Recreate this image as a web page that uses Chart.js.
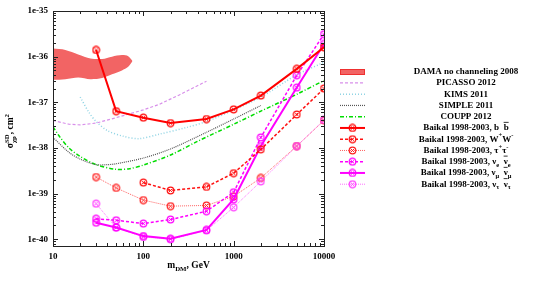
<!DOCTYPE html>
<html>
<head>
<meta charset="utf-8">
<script src="https://cdn.jsdelivr.net/npm/chart.js@4.4.0/dist/chart.umd.min.js"></script>
<style>
    html, body { margin: 0; padding: 0; background: #fff; }
    #wrap { width: 538px; height: 283px; }
</style>
</head>
<body>
<div id="wrap"><canvas id="limitsChart"></canvas></div>
<script>
// Tick values
const xTicks = [10, 100, 1000, 10000];
const yTicks = [1e-40, 1e-39, 1e-38, 1e-37, 1e-36, 1e-35];

// DAMA allowed region (upper / lower boundary)
const damaMass = [10, 13.7, 19, 26, 35, 45, 58, 68, 76];
const damaUpper = [1.5e-36, 1.4e-36, 1.12e-36, 9.1e-37, 8.9e-37, 1e-36, 1.08e-36, 1.02e-36, 8e-37];
const damaLower = [3.1e-37, 3.2e-37, 3.5e-37, 3.2e-37, 3.4e-37, 4.1e-37, 5e-37, 6e-37, 8e-37];

// Other experiments
const picassoMass = [10, 15, 20, 30, 50, 100, 150, 250, 500];
const picassoSigma = [4e-38, 3.3e-38, 3.2e-38, 3.5e-38, 4.6e-38, 6.8e-38, 9e-38, 1.45e-37, 2.9e-37];
const kimsMass = [20, 25, 30, 40, 60, 90, 150, 300, 500, 1000, 2000, 5000, 10000];
const kimsSigma = [1.3e-37, 6e-38, 3.8e-38, 2.4e-38, 1.8e-38, 1.6e-38, 2e-38, 2.8e-38, 3.8e-38, 6.8e-38, 1.3e-37, 4e-37, 7.5e-37];
const simpleMass = [10, 15, 20, 30, 40, 50, 100, 200, 500, 1000, 2000];
const simpleSigma = [1.7e-38, 8e-39, 5.7e-39, 4.3e-39, 4.3e-39, 4.5e-39, 6e-39, 9.5e-39, 2.2e-38, 4.3e-38, 8.5e-38];
const couppMass = [10, 12, 15, 20, 30, 50, 70, 100, 200, 400, 1000, 2000, 5000, 10000];
const couppSigma = [2.9e-38, 1.7e-38, 1e-38, 6.5e-39, 4.3e-39, 3.4e-39, 3.5e-39, 4.2e-39, 7e-39, 1.4e-38, 3.3e-38, 6.4e-38, 1.5e-37, 3e-37];

// Baikal 1998-2003 limits
const baikalMass = [30, 50, 100, 200, 500, 1000, 2000, 5000, 10000];
const sigmaBB = [1.4e-36, 6.4e-38, 4.6e-38, 3.5e-38, 4.3e-38, 7e-38, 1.4e-37, 5.4e-37, 1.6e-36];
const massWW = [100, 200, 500, 1000, 2000, 5000, 10000];
const sigmaWW = [1.74e-39, 1.17e-39, 1.4e-39, 2.8e-39, 9.3e-39, 5.4e-38, 2e-37];
const sigmaTauTau = [2.3e-39, 1.33e-39, 7.2e-40, 5.3e-40, 5.5e-40, 8.7e-40, 2.2e-39, 1.1e-38, 4e-38];
const sigmaNuE = [2.8e-40, 2.6e-40, 2.2e-40, 2.7e-40, 4.1e-40, 1.07e-39, 1.7e-38, 3.9e-37, 3.1e-36];
const sigmaNuMu = [2.3e-40, 1.8e-40, 1.17e-40, 1.02e-40, 1.6e-40, 7.5e-40, 1.1e-38, 2.1e-37, 1.9e-36];
const sigmaNuTau = [6e-40, 1.8e-40, 1.12e-40, 1e-40, 1.55e-40, 5e-40, 1.85e-39, 1.1e-38, 4.1e-38];

const FONT = '"Liberation Serif", "DejaVu Serif", serif';
const DAMA_RED = '#f26464';

function pts(xs, ys) {
    return xs.map((v, i) => ({ x: v, y: ys[i] }));
}

// circle-with-cross marker
function marker(color) {
    const c = document.createElement('canvas');
    c.width = 9; c.height = 9;
    const g = c.getContext('2d');
    g.strokeStyle = color;
    g.lineWidth = 1.2;
    g.beginPath(); g.arc(4.5, 4.5, 3.3, 0, Math.PI * 2); g.stroke();
    g.lineWidth = 1;
    g.beginPath();
    g.moveTo(3, 3); g.lineTo(6, 6);
    g.moveTo(6, 3); g.lineTo(3, 6);
    g.stroke();
    return c;
}

function baikal(label, data, color, width, dash, row, markColor) {
    return {
        data: data,
        borderColor: color,
        borderWidth: width,
        borderDash: dash,
        pointStyle: marker(markColor || color),
        pointRadius: 3,
        legendParts: label,
        legendRow: row
    };
}

const prefix = 'Baikal 1998-2003, ';

const datasets = [
    baikal([[prefix + 'b  '], ['b', 'bar']], pts(baikalMass, sigmaBB), '#ff0000', 2, [], 5),
    baikal([[prefix + 'W'], ['+', 'sup'], ['W'], ['-', 'sup']], pts(massWW, sigmaWW), '#ff1010', 1.5, [3, 2], 6),
    baikal([[prefix + 'ν'], ['e', 'sub'], ['  '], ['ν', 'bar'], ['e', 'sub']], pts(baikalMass, sigmaNuE), '#ff00ff', 1.5, [3, 2], 8),
    baikal([[prefix + 'ν'], ['μ', 'sub'], ['  '], ['ν', 'bar'], ['μ', 'sub']], pts(baikalMass, sigmaNuMu), '#ff00ff', 2, [], 9),
    baikal([[prefix + 'ν'], ['τ', 'sub'], ['  '], ['ν', 'bar'], ['τ', 'sub']], pts(baikalMass, sigmaNuTau), '#ff70ff', 1, [1, 1], 10, '#ff40ff'),
    baikal([[prefix + 'τ'], ['+', 'sup'], ['τ'], ['-', 'sup']], pts(baikalMass, sigmaTauTau), '#ff6060', 1, [1, 1], 7, '#ff2020'),
    {
        data: pts(picassoMass, picassoSigma), borderColor: '#d890ea', borderWidth: 1.2,
        borderDash: [3, 2], pointRadius: 0, legendParts: [['PICASSO 2012']], legendRow: 1
    },
    {
        data: pts(kimsMass, kimsSigma), borderColor: '#90d4e4', borderWidth: 1.5,
        borderDash: [1, 2], pointRadius: 0, tension: 0.3, legendParts: [['KIMS 2011']], legendRow: 2
    },
    {
        data: pts(simpleMass, simpleSigma), borderColor: '#555555', borderWidth: 1.2,
        borderDash: [1, 1], pointRadius: 0, tension: 0.3, legendParts: [['SIMPLE 2011']], legendRow: 3
    },
    {
        data: pts(couppMass, couppSigma), borderColor: '#00dd00', borderWidth: 1.5,
        borderDash: [4, 2, 1, 2], pointRadius: 0, tension: 0.3, legendParts: [['COUPP 2012']], legendRow: 4
    },
    {
        data: pts(damaMass, damaUpper), borderWidth: 0, borderColor: 'rgba(0,0,0,0)',
        pointRadius: 0, tension: 0.3, legendParts: [['DAMA no channeling 2008']], legendRow: 0, isBox: true
    },
    {
        data: pts(damaMass, damaLower), borderWidth: 0, borderColor: 'rgba(0,0,0,0)',
        pointRadius: 0, tension: 0.3, fill: '-1', backgroundColor: DAMA_RED
    }
];

// rich text with sub/superscripts and overlines
function richWidth(ctx, parts, size) {
    let w = 0;
    parts.forEach(p => {
        const small = p[1] === 'sub' || p[1] === 'sup';
        ctx.font = 'bold ' + (small ? size * 0.72 : size) + 'px ' + FONT;
        if (p[2] !== 'stack') w += ctx.measureText(p[0]).width;
    });
    return w;
}

function drawRich(ctx, parts, cx, cy, size) {
    let x = cx - richWidth(ctx, parts, size) / 2;
    let last = 0;
    ctx.textBaseline = 'middle';
    ctx.textAlign = 'left';
    parts.forEach(p => {
        const kind = p[1];
        const small = kind === 'sub' || kind === 'sup';
        ctx.font = 'bold ' + (small ? size * 0.72 : size) + 'px ' + FONT;
        let dy = 0;
        if (kind === 'sub') dy = size * 0.35;
        if (kind === 'sup') dy = -size * 0.4;
        const px = p[2] === 'stack' ? x - last : x;
        ctx.fillText(p[0], px, cy + dy);
        const w = ctx.measureText(p[0]).width;
        if (kind === 'bar') {
            ctx.save();
            ctx.lineWidth = 0.8;
            ctx.beginPath();
            ctx.moveTo(px, cy - size * 0.62);
            ctx.lineTo(px + w, cy - size * 0.62);
            ctx.strokeStyle = ctx.fillStyle;
            ctx.stroke();
            ctx.restore();
        }
        if (p[2] === 'stack') {
            if (w > last) x += w - last;
        } else {
            x += w;
            last = w;
        }
    });
}

const decorPlugin = {
    id: 'decor',
    afterDatasetsDraw(chart) {
        const { ctx, chartArea: a, scales } = chart;
        const sx = scales.x, sy = scales.y;
        ctx.save();

        // frame
        ctx.strokeStyle = '#222';
        ctx.lineWidth = 1;
        ctx.setLineDash([]);
        ctx.strokeRect(Math.round(a.left) + 0.5, Math.round(a.top) + 0.5,
            Math.round(a.right - a.left), Math.round(a.bottom - a.top));

        // inward ticks on all four sides
        ctx.beginPath();
        for (let d = 10; d < 10000; d *= 10) {
            for (let k = 1; k <= 9; k++) {
                const v = d * k;
                const px = Math.round(sx.getPixelForValue(v)) + 0.5;
                const len = k === 1 ? 5 : 3;
                ctx.moveTo(px, a.bottom); ctx.lineTo(px, a.bottom - len);
                ctx.moveTo(px, a.top); ctx.lineTo(px, a.top + len);
            }
        }
        for (let e = -41; e < -35; e++) {
            for (let k = 1; k <= 9; k++) {
                const v = k * Math.pow(10, e);
                if (v < sy.min || v > sy.max) continue;
                const py = Math.round(sy.getPixelForValue(v)) + 0.5;
                const len = k === 1 ? 5 : 3;
                ctx.moveTo(a.left, py); ctx.lineTo(a.left + len, py);
                ctx.moveTo(a.right, py); ctx.lineTo(a.right - len, py);
            }
        }
        ctx.stroke();

        // axis titles
        ctx.fillStyle = '#000';
        drawRich(ctx, [['m'], ['DM', 'sub'], [', GeV']], (a.left + a.right) / 2, 266, 9.5);
        ctx.save();
        ctx.translate(11, 132);
        ctx.rotate(-Math.PI / 2);
        drawRich(ctx, [['σ'], ['χp', 'sub'], ['SD', 'sup', 'stack'], [', cm'], ['2', 'sup']], 0, 0, 9.5);
        ctx.restore();

        // legend
        const rowY = 71.7, step = 11.25, x0 = 340, x1 = 365, textX = 466;
        chart.data.datasets.forEach(ds => {
            if (ds.legendRow === undefined) return;
            const y = rowY + ds.legendRow * step;
            if (ds.isBox) {
                ctx.fillStyle = DAMA_RED;
                ctx.fillRect(x0, Math.round(y - 3), x1 - x0, 6);
                ctx.strokeStyle = '#ee3030';
                ctx.lineWidth = 1;
                ctx.setLineDash([]);
                ctx.strokeRect(x0 + 0.5, Math.round(y - 3) + 0.5, x1 - x0 - 1, 5);
            } else {
                ctx.strokeStyle = ds.borderColor;
                ctx.lineWidth = ds.borderWidth;
                ctx.setLineDash(ds.borderDash || []);
                ctx.beginPath();
                ctx.moveTo(x0, y); ctx.lineTo(x1, y);
                ctx.stroke();
                ctx.setLineDash([]);
                if (ds.pointRadius > 0 && ds.pointStyle) {
                    const m = ds.pointStyle;
                    ctx.drawImage(m, (x0 + x1) / 2 - m.width / 2, y - m.height / 2);
                }
            }
            ctx.fillStyle = '#000';
            drawRich(ctx, ds.legendParts, textX, y, 9);
        });

        ctx.restore();
    }
};

new Chart(document.getElementById('limitsChart').getContext('2d'), {
    type: 'scatter',
    data: { datasets: datasets.map(d => Object.assign({ showLine: true, fill: false }, d)) },
    options: {
        responsive: true,
        maintainAspectRatio: false,
        animation: false,
        layout: { padding: { top: 11, right: 214, left: 0, bottom: 0 } },
        plugins: {
            legend: { display: false },
            tooltip: { enabled: false }
        },
        scales: {
            x: {
                type: 'logarithmic',
                min: 10,
                max: 10000,
                grid: { display: false, drawTicks: false },
                border: { display: false },
                afterBuildTicks: scale => { scale.ticks = xTicks.map(v => ({ value: v })); },
                afterFit: scale => { scale.height = 37; },
                ticks: {
                    autoSkip: false,
                    maxRotation: 0,
                    padding: 5,
                    color: '#000',
                    font: { family: FONT, size: 9, weight: 'bold' },
                    callback: v => String(v)
                }
            },
            y: {
                type: 'logarithmic',
                min: 7.1e-41,
                max: 1e-35,
                grid: { display: false, drawTicks: false },
                border: { display: false },
                afterBuildTicks: scale => { scale.ticks = yTicks.map(v => ({ value: v })); },
                afterFit: scale => { scale.width = 53; },
                ticks: {
                    autoSkip: false,
                    padding: 5,
                    color: '#000',
                    font: { family: FONT, size: 9, weight: 'bold' },
                    callback: v => '1e' + Math.round(Math.log10(v))
                }
            }
        }
    },
    plugins: [decorPlugin]
});
</script>
</body>
</html>
